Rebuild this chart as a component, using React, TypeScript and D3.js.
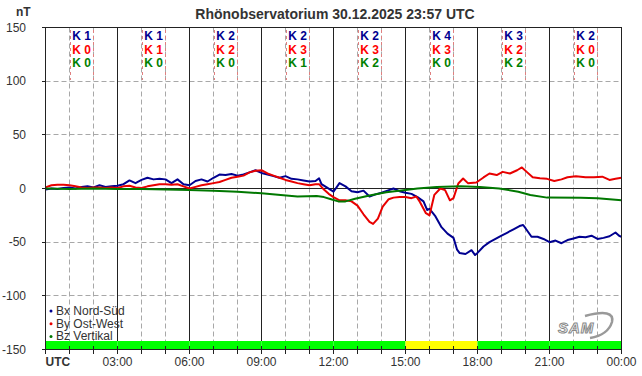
import React from "react";
import * as d3 from "d3";

const W = 642;
const H = 376;

const title = "Rhönobservatorium 30.12.2025 23:57 UTC";
const yTicks = [150, 100, 50, 0, -50, -100, -150];
const xTickHours = [0, 3, 6, 9, 12, 15, 18, 21, 24];
const xTickLabels = ["UTC", "03:00", "06:00", "09:00", "12:00", "15:00", "18:00", "21:00", "00:00"];

const kBx = [1, 1, 2, 2, 2, 4, 3, 2];
const kBy = [0, 1, 2, 3, 3, 3, 2, 0];
const kBz = [0, 0, 0, 1, 2, 0, 2, 0];
const barColors = ["#00ff00", "#00ff00", "#00ff00", "#00ff00", "#00ff00", "#ffff00", "#00ff00", "#00ff00"];

const legendLabels = ["Bx Nord-Süd", "By Ost-West", "Bz Vertikal"];
const seriesColors = ["#000090", "#e80000", "#007800"];
const kColors = ["#000090", "#ff0000", "#008000"];

// [hour, nT]
const bxData: [number, number][] = [
  [0, -1], [0.25, 0], [0.5, -0.5], [0.75, 0.5], [1, 1], [1.25, 0], [1.5, 1.5], [1.75, 2], [2, 1], [2.25, 3],
  [2.5, 1.5], [2.75, 2], [3, 2.5], [3.25, 4], [3.5, 7.5], [3.75, 5], [4, 8], [4.25, 10], [4.5, 8.5], [4.75, 9],
  [5, 8.5], [5.25, 5], [5.5, 8.5], [5.75, 4], [6, 3], [6.25, 7], [6.5, 8.5], [6.75, 6.5], [7, 10], [7.25, 13],
  [7.5, 12.5], [7.75, 13.5], [8, 12], [8.25, 13], [8.5, 15], [8.75, 17], [9, 14.5], [9.25, 13], [9.5, 11.5],
  [9.75, 10], [10, 11.5], [10.25, 9], [10.5, 8.5], [10.75, 7.5], [11, 6.5], [11.25, 7], [11.4, 9.5], [11.5, 4],
  [11.75, 0.5], [12, -3], [12.25, 5], [12.5, 2], [12.75, -2.5], [13, -3.5], [13.25, -2], [13.5, -7.5],
  [13.75, -5.5], [14, -4], [14.25, -2], [14.5, 0], [14.75, -2.5], [15, -4], [15.25, -5], [15.5, -8],
  [15.75, -12], [15.9, -20], [16, -19], [16.25, -26], [16.5, -36], [16.75, -42], [17, -46], [17.15, -57],
  [17.25, -60], [17.5, -61], [17.75, -57.5], [17.9, -62], [18, -60], [18.25, -54], [18.5, -50], [18.75, -47],
  [19, -44], [19.25, -41], [19.5, -38], [19.75, -35], [19.9, -34], [20, -37], [20.25, -45], [20.5, -45],
  [20.75, -47], [21, -50], [21.25, -48.5], [21.5, -51], [21.75, -48], [22, -46.5], [22.25, -45], [22.5, -45.5],
  [22.75, -44], [23, -47], [23.25, -46], [23.5, -44.5], [23.75, -41], [23.9, -44], [24, -45],
];

const byData: [number, number][] = [
  [0, 1], [0.25, 3], [0.5, 3.5], [0.75, 3.5], [1, 3], [1.25, 2], [1.5, 1], [1.75, 0.5], [2, 1], [2.25, 1],
  [2.5, 0.5], [2.75, 1], [3, 0.5], [3.25, 2], [3.5, 2.5], [3.75, 1], [4, 0.5], [4.25, 2], [4.5, 3], [4.75, 4],
  [5, 4], [5.25, 3.5], [5.5, 4], [5.75, 2], [6, 0], [6.25, 1.5], [6.5, 3], [6.75, 4], [7, 5], [7.25, 6],
  [7.5, 8], [7.75, 10], [8, 11], [8.25, 12], [8.5, 15], [8.75, 16.5], [9, 17], [9.25, 14], [9.5, 12],
  [9.75, 10], [10, 8], [10.25, 6.5], [10.5, 5], [10.75, 4], [11, 3], [11.25, 4], [11.4, 4], [11.6, -1],
  [11.8, -5], [12, -8], [12.25, -11], [12.5, -11], [12.75, -12], [13, -16], [13.25, -24], [13.5, -31],
  [13.65, -33], [13.85, -28], [14.05, -17], [14.3, -10], [14.5, -8.5], [14.75, -8], [15, -8], [15.25, -9],
  [15.45, -7.5], [15.6, -12.5], [15.85, -23], [16, -25], [16.2, -6], [16.45, 0], [16.65, -1.5], [16.85, -11],
  [17, -9], [17.2, 4.7], [17.4, 9.3], [17.6, 5], [17.95, 5.6], [18.25, 10.3], [18.5, 14], [18.8, 12.5],
  [19.05, 15.5], [19.35, 14], [19.65, 17], [19.85, 19.6], [20.05, 15.5], [20.3, 10.5], [20.6, 9.5],
  [20.9, 9], [21.2, 7], [21.5, 8.5], [21.75, 10.5], [22.1, 11.5], [22.5, 10.5], [22.85, 10.5], [23.2, 11],
  [23.5, 8], [23.75, 9], [24, 10],
];

const bzData: [number, number][] = [
  [0, 0], [1, -0.5], [2, 0], [3, -0.5], [4, -0.5], [5, -1], [6, -1.5], [7, -2], [8, -3], [9, -4.5],
  [9.8, -6], [10.5, -7.5], [11.3, -7], [11.6, -8], [11.9, -10], [12.2, -12], [12.5, -12], [12.9, -9.5],
  [13.5, -6.5], [14.2, -3.5], [15, -1.5], [15.5, 0], [16.3, 1.5], [17.3, 2], [18.1, 1.5], [18.9, 0],
  [19.7, -3], [20.2, -6], [20.9, -8.5], [22.3, -8.7], [23, -9], [24, -11],
];

const FONT = "Arial, 'Liberation Sans', sans-serif";
const TXT = "#333";
const GRID = "#a8a8a8";

export default function App() {
  const x = d3.scaleLinear().domain([0, 24]).range([45.5, 621.5]);
  const y = d3.scaleLinear().domain([-150, 150]).range([349.5, 27.5]);
  const r = (v: number) => Math.round(v - 0.5) + 0.5;

  const line = d3
    .line<[number, number]>()
    .x((d) => x(d[0]))
    .y((d) => y(d[1]));

  const hours = d3.range(0, 25);
  const blocks = d3.range(0, 8);
  const barTop = 341;
  const barBottom = r(y(-150));

  return (
    <svg
      width={W}
      height={H}
      style={{ position: "absolute", left: 0, top: 0, background: "#fff" }}
      fontFamily={FONT}
    >
      <rect x={0} y={0} width={W} height={H} fill="#fff" />
      <text x={335} y={19} textAnchor="middle" fontSize={14} fontWeight="bold" fill={TXT}>
        {title}
      </text>
      <text x={16} y={16} fontSize={12} fontWeight="bold" fill={TXT}>
        nT
      </text>

      {/* horizontal dashed grid */}
      {yTicks
        .filter((v) => v !== 0 && v !== 150 && v !== -150)
        .map((v) => (
          <line key={"hg" + v} x1={x(0)} x2={x(24)} y1={r(y(v))} y2={r(y(v))} stroke={GRID} strokeDasharray="5 3" />
        ))}
      {/* hourly dashed grid */}
      {hours
        .filter((h) => h % 3 !== 0)
        .map((h) => (
          <line key={"vg" + h} x1={r(x(h))} x2={r(x(h))} y1={y(150)} y2={barTop} stroke={GRID} strokeDasharray="5 3" />
        ))}
      {/* 3-hour solid lines */}
      {hours
        .filter((h) => h % 3 === 0 && h !== 0 && h !== 24)
        .map((h) => (
          <line key={"vs" + h} x1={r(x(h))} x2={r(x(h))} y1={y(150)} y2={barTop} stroke="#222" />
        ))}

      {/* K index labels */}
      {blocks.map((b) => {
        const cx = x(b * 3 + 1.5);
        return (
          <g key={"k" + b}>
            <line x1={r(cx - 11.5)} x2={r(cx - 11.5)} y1={30} y2={80} stroke="#e08080" strokeDasharray="3 3" />
            <line x1={r(cx + 11.5)} x2={r(cx + 11.5)} y1={30} y2={80} stroke="#e08080" strokeDasharray="3 3" />
            {[kBx[b], kBy[b], kBz[b]].map((k, i) => (
              <text
                key={i}
                x={cx}
                y={40 + i * 13.5}
                textAnchor="middle"
                fontSize={12}
                fontWeight="bold"
                fill={kColors[i]}
              >
                {"K " + k}
              </text>
            ))}
          </g>
        );
      })}

      {/* zero line */}
      <line x1={x(0)} x2={x(24)} y1={r(y(0))} y2={r(y(0))} stroke="#222" />

      {/* activity bar */}
      {blocks.map((b) => (
        <rect
          key={"bar" + b}
          x={x(b * 3)}
          y={barTop}
          width={x(b * 3 + 3) - x(b * 3)}
          height={barBottom - barTop}
          fill={barColors[b]}
        />
      ))}

      {/* series */}
      <path d={line(bxData) || ""} fill="none" stroke={seriesColors[0]} strokeWidth={2} strokeLinejoin="round" />
      <path d={line(byData) || ""} fill="none" stroke={seriesColors[1]} strokeWidth={2} strokeLinejoin="round" />
      <path d={line(bzData) || ""} fill="none" stroke={seriesColors[2]} strokeWidth={2} strokeLinejoin="round" />

      {/* frame */}
      <rect x={x(0)} y={y(150)} width={x(24) - x(0)} height={y(-150) - y(150)} fill="none" stroke="#222" />

      {/* y ticks and labels */}
      {yTicks.map((v) => (
        <g key={"yt" + v}>
          <line x1={42} x2={x(0)} y1={r(y(v))} y2={r(y(v))} stroke="#222" />
          <text x={26} y={y(v) + 4} textAnchor="end" fontSize={12} fill={TXT}>
            {v}
          </text>
        </g>
      ))}

      {/* x ticks */}
      {hours.map((h) => (
        <line key={"xt" + h} x1={r(x(h))} x2={r(x(h))} y1={346} y2={354} stroke="#222" />
      ))}
      {xTickHours.map((h, i) =>
        i === 0 ? (
          <text key={"xl" + h} x={x(h)} y={366} fontSize={12} fontWeight="bold" fill={TXT}>
            {xTickLabels[i]}
          </text>
        ) : (
          <text key={"xl" + h} x={x(h)} y={366} textAnchor="middle" fontSize={12} fill={TXT}>
            {xTickLabels[i]}
          </text>
        )
      )}

      {/* legend */}
      {legendLabels.map((l, i) => (
        <g key={"lg" + i}>
          <circle cx={51} cy={311 + i * 12.7} r={1.5} fill={seriesColors[i]} />
          <text x={56} y={315 + i * 12.7} fontSize={12} fill={TXT}>
            {l}
          </text>
        </g>
      ))}

      {/* SAM logo */}
      <g>
        <path
          d="M 585 316 Q 615 308 612 322 Q 608 335 590 338"
          fill="none"
          stroke="#999"
          strokeWidth={2.5}
        />
        <text
          x={558}
          y={333}
          fontSize={15}
          fontStyle="italic"
          fontWeight="bold"
          fill="#fff"
          stroke="#888"
          strokeWidth={1}
          letterSpacing={1}
        >
          SAM
        </text>
      </g>
    </svg>
  );
}
